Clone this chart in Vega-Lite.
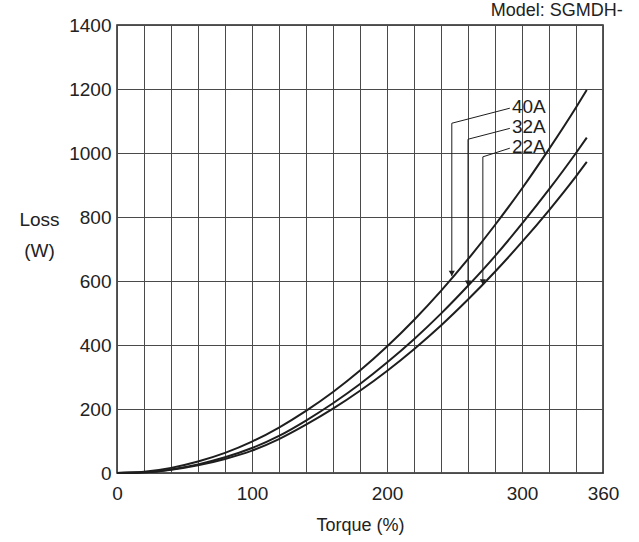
{
  "$schema": "https://vega.github.io/schema/vega-lite/v6.json",
  "width": 486,
  "height": 448,
  "autosize": {"type": "none"},
  "padding": {"left": 117, "top": 25, "right": 36, "bottom": 69},
  "background": "white",
  "config": {
    "font": "Liberation Sans",
    "view": {"stroke": "#222222", "strokeWidth": 1.5},
    "axis": {"labelFont": "Liberation Sans", "titleFont": "Liberation Sans", "labelColor": "#222222", "titleColor": "#222222"}
  },
  "title": {"text": "Model: SGMDH-", "anchor": "end", "fontSize": 18, "fontWeight": "normal", "color": "#222222", "font": "Liberation Sans", "offset": -4, "dx": 4},
  "datasets": {
    "curves": [
      {"torque": 0, "loss": 0, "series": "40A"}, {"torque": 20, "loss": 4, "series": "40A"}, {"torque": 40, "loss": 16, "series": "40A"}, {"torque": 60, "loss": 36, "series": "40A"}, {"torque": 80, "loss": 63, "series": "40A"}, {"torque": 100, "loss": 98, "series": "40A"}, {"torque": 120, "loss": 142, "series": "40A"}, {"torque": 140, "loss": 194, "series": "40A"}, {"torque": 160, "loss": 253, "series": "40A"}, {"torque": 180, "loss": 320, "series": "40A"}, {"torque": 200, "loss": 395, "series": "40A"}, {"torque": 220, "loss": 478, "series": "40A"}, {"torque": 240, "loss": 569, "series": "40A"}, {"torque": 260, "loss": 668, "series": "40A"}, {"torque": 280, "loss": 775, "series": "40A"}, {"torque": 300, "loss": 889, "series": "40A"}, {"torque": 320, "loss": 1012, "series": "40A"}, {"torque": 340, "loss": 1142, "series": "40A"}, {"torque": 348, "loss": 1197, "series": "40A"},
      {"torque": 0, "loss": 0, "series": "32A"}, {"torque": 20, "loss": 2, "series": "32A"}, {"torque": 40, "loss": 11, "series": "32A"}, {"torque": 60, "loss": 27, "series": "32A"}, {"torque": 80, "loss": 49, "series": "32A"}, {"torque": 100, "loss": 78, "series": "32A"}, {"torque": 120, "loss": 116, "series": "32A"}, {"torque": 140, "loss": 164, "series": "32A"}, {"torque": 160, "loss": 218, "series": "32A"}, {"torque": 180, "loss": 278, "series": "32A"}, {"torque": 200, "loss": 345, "series": "32A"}, {"torque": 220, "loss": 418, "series": "32A"}, {"torque": 240, "loss": 498, "series": "32A"}, {"torque": 260, "loss": 585, "series": "32A"}, {"torque": 280, "loss": 678, "series": "32A"}, {"torque": 300, "loss": 779, "series": "32A"}, {"torque": 320, "loss": 886, "series": "32A"}, {"torque": 340, "loss": 1000, "series": "32A"}, {"torque": 348, "loss": 1048, "series": "32A"},
      {"torque": 0, "loss": 0, "series": "22A"}, {"torque": 20, "loss": 2, "series": "22A"}, {"torque": 40, "loss": 10, "series": "22A"}, {"torque": 60, "loss": 24, "series": "22A"}, {"torque": 80, "loss": 44, "series": "22A"}, {"torque": 100, "loss": 70, "series": "22A"}, {"torque": 120, "loss": 106, "series": "22A"}, {"torque": 140, "loss": 151, "series": "22A"}, {"torque": 160, "loss": 201, "series": "22A"}, {"torque": 180, "loss": 257, "series": "22A"}, {"torque": 200, "loss": 319, "series": "22A"}, {"torque": 220, "loss": 387, "series": "22A"}, {"torque": 240, "loss": 461, "series": "22A"}, {"torque": 260, "loss": 542, "series": "22A"}, {"torque": 280, "loss": 629, "series": "22A"}, {"torque": 300, "loss": 722, "series": "22A"}, {"torque": 320, "loss": 821, "series": "22A"}, {"torque": 340, "loss": 927, "series": "22A"}, {"torque": 348, "loss": 972, "series": "22A"}
    ],
    "leaders": [
      {"series": "40A", "step": 1, "torque": 291, "loss": 1140}, {"series": "40A", "step": 2, "torque": 248, "loss": 1093}, {"series": "40A", "step": 3, "torque": 248, "loss": 615},
      {"series": "32A", "step": 1, "torque": 291, "loss": 1077}, {"series": "32A", "step": 2, "torque": 260, "loss": 1043}, {"series": "32A", "step": 3, "torque": 260, "loss": 584},
      {"series": "22A", "step": 1, "torque": 291, "loss": 1015}, {"series": "22A", "step": 2, "torque": 271, "loss": 988}, {"series": "22A", "step": 3, "torque": 271, "loss": 588}
    ],
    "arrows": [
      {"series": "40A", "torque": 248, "loss": 624},
      {"series": "32A", "torque": 260, "loss": 593},
      {"series": "22A", "torque": 271, "loss": 597}
    ],
    "labels": [
      {"series": "40A", "torque": 292.5, "loss": 1145},
      {"series": "32A", "torque": 292.5, "loss": 1081},
      {"series": "22A", "torque": 292.5, "loss": 1019}
    ]
  },
  "encoding": {
    "x": {
      "field": "torque", "type": "quantitative",
      "scale": {"domain": [0, 360], "nice": false, "zero": false},
      "axis": {
        "title": "Torque (%)", "titleFontSize": 18, "titleFontWeight": "normal", "titleBaseline": "alphabetic", "titleY": 57,
        "values": [0, 20, 40, 60, 80, 100, 120, 140, 160, 180, 200, 220, 240, 260, 280, 300, 320, 340, 360],
        "labelExpr": "(datum.value % 100 == 0 || datum.value == 360) ? datum.label : ''",
        "format": "d",
        "labelFontSize": 19, "labelPadding": 11, "labelFlush": false,
        "ticks": false, "domain": false,
        "grid": true, "gridColor": "#4a4a4a", "gridWidth": 1, "gridOpacity": 1
      }
    },
    "y": {
      "field": "loss", "type": "quantitative",
      "scale": {"domain": [0, 1400], "nice": false},
      "axis": {
        "title": ["Loss", "(W)"], "titleAngle": 0, "titleAlign": "center", "titleBaseline": "alphabetic",
        "titleX": -78, "titleY": 200, "titleFontSize": 19, "titleFontWeight": "normal", "titleLineHeight": 31,
        "values": [0, 200, 400, 600, 800, 1000, 1200, 1400],
        "format": "d",
        "labelFontSize": 19, "labelPadding": 6,
        "ticks": false, "domain": false,
        "grid": true, "gridColor": "#4a4a4a", "gridWidth": 1, "gridOpacity": 1
      }
    }
  },
  "layer": [
    {
      "data": {"name": "curves"},
      "mark": {"type": "line", "interpolate": "monotone", "color": "#1e1e1e", "strokeWidth": 2},
      "encoding": {"detail": {"field": "series"}}
    },
    {
      "data": {"name": "leaders"},
      "mark": {"type": "line", "color": "#1e1e1e", "strokeWidth": 1},
      "encoding": {"detail": {"field": "series"}, "order": {"field": "step"}}
    },
    {
      "data": {"name": "arrows"},
      "mark": {"type": "point", "shape": "triangle-down", "filled": true, "color": "#1e1e1e", "size": 38, "opacity": 1}
    },
    {
      "data": {"name": "labels"},
      "mark": {"type": "text", "align": "left", "baseline": "middle", "fontSize": 19, "color": "#1e1e1e", "font": "Liberation Sans"},
      "encoding": {"text": {"field": "series"}}
    }
  ]
}
